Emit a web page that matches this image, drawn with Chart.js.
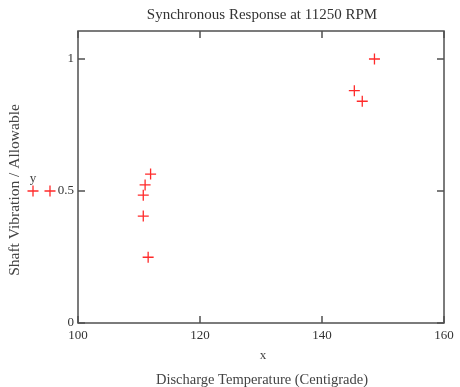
<!DOCTYPE html>
<html>
<head>
<meta charset="utf-8">
<script src="https://cdn.jsdelivr.net/npm/chart.js@4/dist/chart.umd.min.js"></script>
<style>
  html, body { margin: 0; padding: 0; background: #fff; }
  #wrap { width: 460px; height: 387px; position: relative; }
</style>
</head>
<body>
<div id="wrap"><canvas id="chart"></canvas></div>
<script>
// discharge temperature (C) vs shaft vibration ratio
const tempC = [148.6, 145.3, 146.6, 111.9, 111.0, 110.7, 110.7, 111.5];
const vibRatio = [1.0, 0.88, 0.84, 0.564, 0.523, 0.484, 0.405, 0.249];
const xTicks = [100, 120, 140, 160];
const yTicks = [0, 0.5, 1];

const serif = '"Liberation Serif", "DejaVu Serif", serif';
const red = '#ff2a2a';

// inward tick marks, plot frame and the extra text around the plot
const frameAndText = {
  id: 'frameAndText',
  afterDraw(chart) {
    const { ctx, chartArea: a, scales: { x, y } } = chart;
    const t = 7;
    ctx.save();
    ctx.strokeStyle = '#505050';
    ctx.lineWidth = 1.5;
    ctx.strokeRect(a.left, a.top, a.right - a.left, a.bottom - a.top);
    ctx.beginPath();
    xTicks.forEach(v => {
      const px = x.getPixelForValue(v);
      ctx.moveTo(px, a.bottom); ctx.lineTo(px, a.bottom - t);
      ctx.moveTo(px, a.top); ctx.lineTo(px, a.top + t);
    });
    yTicks.forEach(v => {
      const py = y.getPixelForValue(v);
      ctx.moveTo(a.left, py); ctx.lineTo(a.left + t, py);
      ctx.moveTo(a.right, py); ctx.lineTo(a.right - t, py);
    });
    ctx.stroke();

    ctx.fillStyle = '#333';
    ctx.textAlign = 'center';
    ctx.textBaseline = 'middle';
    ctx.font = '15px ' + serif;
    ctx.fillText('Synchronous Response at 11250 RPM', 262, 15);

    ctx.fillStyle = '#444';
    ctx.font = '13px ' + serif;
    ctx.fillText('x', 263, 356);
    ctx.font = '14.5px ' + serif;
    ctx.fillText('Discharge Temperature (Centigrade)', 262, 380);

    ctx.save();
    ctx.translate(15, 190);
    ctx.rotate(-Math.PI / 2);
    ctx.font = '15.5px ' + serif;
    ctx.fillText('Shaft Vibration / Allowable', 0, 0);
    ctx.restore();

    // trace legend: name over two markers
    const ly = y.getPixelForValue(0.5);
    ctx.font = '13px ' + serif;
    ctx.fillText('y', 33, ly - 12);
    ctx.strokeStyle = red;
    ctx.lineWidth = 1.3;
    ctx.beginPath();
    [33, 50].forEach(cx => {
      ctx.moveTo(cx - 5.5, ly); ctx.lineTo(cx + 5.5, ly);
      ctx.moveTo(cx, ly - 5.5); ctx.lineTo(cx, ly + 5.5);
    });
    ctx.stroke();
    ctx.restore();
  }
};

new Chart(document.getElementById('chart'), {
  type: 'scatter',
  data: {
    datasets: [{
      label: 'y',
      data: tempC.map((v, i) => ({ x: v, y: vibRatio[i] })),
      pointStyle: 'cross',
      pointRadius: 5.5,
      pointBorderWidth: 1.3,
      borderColor: red,
      backgroundColor: red
    }]
  },
  options: {
    responsive: true,
    maintainAspectRatio: false,
    animation: false,
    layout: { padding: { left: 0, top: 31, right: 16, bottom: 0 } },
    plugins: { legend: { display: false }, tooltip: { enabled: false } },
    scales: {
      x: {
        type: 'linear', min: 100, max: 160,
        afterBuildTicks: s => { s.ticks = xTicks.map(v => ({ value: v })); },
        afterFit: s => { s.height = 64; },
        grid: { display: false, drawTicks: false },
        border: { display: false },
        ticks: { color: '#333', font: { family: serif, size: 13 }, padding: 5, maxRotation: 0 }
      },
      y: {
        type: 'linear', min: 0, max: 1.106,
        afterBuildTicks: s => { s.ticks = yTicks.map(v => ({ value: v })); },
        afterFit: s => { s.width = 78; },
        grid: { display: false, drawTicks: false },
        border: { display: false },
        ticks: {
          color: '#333', font: { family: serif, size: 13 }, padding: 4,
          callback: v => String(v)
        }
      }
    }
  },
  plugins: [frameAndText]
});
</script>
</body>
</html>
